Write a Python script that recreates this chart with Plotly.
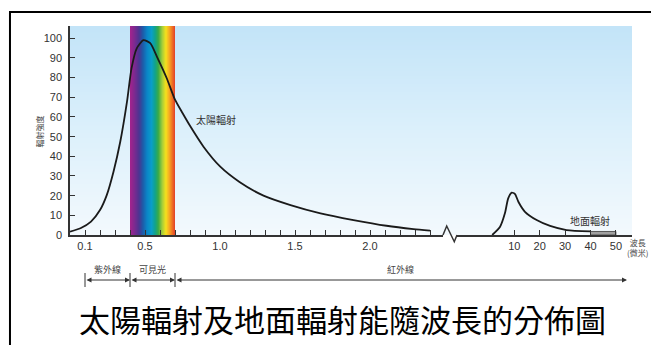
import base64, struct, zlib
import plotly.graph_objects as go

# ---------------- data ----------------
solar_um = [0.0, 0.07, 0.14, 0.2, 0.245, 0.29, 0.335, 0.38, 0.41, 0.445, 0.49, 0.535,
            0.58, 0.645, 0.7, 0.75, 0.8, 0.89, 1.0, 1.13, 1.29, 1.47, 1.67, 1.89,
            2.11, 2.29, 2.4]
solar_val = [1.7, 3.4, 6.8, 12.7, 20.3, 32.2, 47.4, 67.8, 84.7, 94.9, 99.1, 97.5,
             90.6, 79.7, 68.8, 62.0, 55.5, 44.9, 34.9, 27.0, 20.0, 15.2, 11.0, 7.6,
             4.7, 3.0, 2.2]
terr_um = [1.3, 4.4, 6.3, 7.6, 9.0, 10.3, 11.6, 14.2, 18.8, 24.1, 30.6, 40.0]
terr_val = [0.0, 4.2, 11.0, 18.6, 21.5, 20.8, 16.9, 11.8, 7.6, 4.6, 2.5, 1.8]
terr_tail_um = [40, 50]
terr_tail_val = 1.8

y_ticks = list(range(0, 101, 10))
x1_ticks = [round(0.1 * i, 1) for i in range(1, 25)]
x1_labels = {0.1: "0.1", 0.5: "0.5", 1.0: "1.0", 1.5: "1.5", 2.0: "2.0"}
x2_ticks = [10, 20, 30, 40, 50]

uv_range = [0.1, 0.4]
visible_range = [0.4, 0.7]
ir_start = 0.7

title_text = "太陽輻射及地面輻射能隨波長的分佈圖"
y_title = "輻射強度"

# ---------------- helpers ----------------
def hex2rgb(h):
    h = h.lstrip("#")
    return tuple(int(h[i:i + 2], 16) for i in (0, 2, 4))

def grad(stops, t):
    for (t0, c0), (t1, c1) in zip(stops[:-1], stops[1:]):
        if t0 <= t <= t1:
            f = 0 if t1 == t0 else (t - t0) / (t1 - t0)
            a, b = hex2rgb(c0), hex2rgb(c1)
            return tuple(int(round(a[k] + (b[k] - a[k]) * f)) for k in range(3))
    return hex2rgb(stops[-1][1])

def png_uri(w, h, pix):
    raw = b"".join(b"\x00" + bytes([c for x in range(w) for c in pix(x, y)]) for y in range(h))
    def chunk(tag, data):
        return struct.pack(">I", len(data)) + tag + data + struct.pack(">I", zlib.crc32(tag + data) & 0xffffffff)
    png = (b"\x89PNG\r\n\x1a\n" + chunk(b"IHDR", struct.pack(">IIBBBBB", w, h, 8, 2, 0, 0, 0))
           + chunk(b"IDAT", zlib.compress(raw)) + chunk(b"IEND", b""))
    return "data:image/png;base64," + base64.b64encode(png).decode()

bg_stops = [(0, "#c3e4f8"), (0.5, "#dcf0fb"), (1, "#f3f9fd")]
bg_uri = png_uri(2, 128, lambda x, y: grad(bg_stops, y / 127))

rb_stops = [(0.00, "#a3238e"), (0.10, "#7b2a8f"), (0.20, "#4b3592"), (0.28, "#1f5aa8"),
            (0.38, "#0a86c8"), (0.48, "#0a9fc8"), (0.56, "#12a38a"), (0.63, "#3aab47"),
            (0.72, "#a7cf3a"), (0.80, "#f5e11c"), (0.88, "#f5a623"), (0.95, "#ee6a24"),
            (1.00, "#e2432a")]
rb_uri = png_uri(128, 2, lambda x, y: grad(rb_stops, x / 127))

# ---------------- figure ----------------
# page offset of the figure (default body margin)
OFF = 8
W, H = 659 - OFF, 345 - OFF
PL, PR, PT, PB = 70, 632, 26, 235          # plot area in page pixels
ML, MR, MT, MB = PL - OFF, W - (PR - OFF), PT - OFF, H - (PB - OFF)
PW, PH = PR - PL, PB - PT
px_per_um1 = 150.0
x1_end_px = 443
x2_start_px, x2_zero_px, px_per_um2 = 457, 488.9, 2.54

def pxx(p):
    return (p - PL) / PW

def pxy(p):
    return (PB - p) / PH

num_font = dict(family="Liberation Sans, Arial, sans-serif", size=11, color="#333333")
cjk = "Noto Sans CJK TC, sans-serif"
axcol = "#333333"

fig = go.Figure()
fig.add_trace(go.Scatter(x=solar_um, y=solar_val, mode="lines",
                         line=dict(color="#1a1a1a", width=1.8, shape="spline", smoothing=0.6),
                         xaxis="x", yaxis="y", hoverinfo="skip", cliponaxis=False))
fig.add_trace(go.Scatter(x=terr_um, y=terr_val, mode="lines",
                         line=dict(color="#1a1a1a", width=1.8, shape="spline", smoothing=0.6),
                         xaxis="x2", yaxis="y", hoverinfo="skip", cliponaxis=False))
fig.add_trace(go.Scatter(x=[terr_tail_um[0], terr_tail_um[1], terr_tail_um[1], terr_tail_um[0], terr_tail_um[0]],
                         y=[0, 0, terr_tail_val, terr_tail_val, 0], mode="lines", fill="toself",
                         fillcolor="#a0a0a0", line=dict(color="#555555", width=1),
                         xaxis="x2", yaxis="y", hoverinfo="skip"))

yr_top = PH / 1.967
x1_range = [0, (x1_end_px - PL) / px_per_um1]
x2_range = [(x2_start_px - x2_zero_px) / px_per_um2, (PR - x2_zero_px) / px_per_um2]

fig.update_layout(
    width=W, height=H, margin=dict(l=ML, r=MR, t=MT, b=MB),
    paper_bgcolor="white", plot_bgcolor="rgba(0,0,0,0)", showlegend=False,
    xaxis=dict(domain=[0, pxx(x1_end_px)], range=x1_range, tickmode="array",
               tickvals=x1_ticks, ticktext=[x1_labels.get(v, "") for v in x1_ticks],
               ticks="inside", ticklen=5, tickwidth=1, tickcolor=axcol,
               showline=True, linecolor=axcol, linewidth=1.5, showgrid=False,
               zeroline=False, tickfont=num_font, anchor="y"),
    xaxis2=dict(domain=[pxx(x2_start_px), 1], range=x2_range, tickmode="array",
                tickvals=x2_ticks, ticks="inside", ticklen=5, tickwidth=1, tickcolor=axcol,
                showline=True, linecolor=axcol, linewidth=1.5, showgrid=False,
                zeroline=False, tickfont=num_font, anchor="y"),
    yaxis=dict(range=[0, yr_top], tickmode="array", tickvals=y_ticks,
               ticks="inside", ticklen=5, tickwidth=1, tickcolor=axcol,
               showline=True, linecolor=axcol, linewidth=1.5, showgrid=False,
               zeroline=False, tickfont=num_font, anchor="x", ticklabelstandoff=4),
)

fig.add_layout_image(dict(source=bg_uri, xref="paper", yref="paper", x=0, y=1,
                          sizex=1, sizey=1, sizing="stretch", layer="below"))
fig.add_layout_image(dict(source=rb_uri, xref="x", yref="paper", x=visible_range[0], y=1,
                          sizex=visible_range[1] - visible_range[0], sizey=1,
                          sizing="stretch", layer="below"))

# axis break zigzag
zz = [(x1_end_px, PB), (446.7, 226), (454.3, 241.7), (x2_start_px, PB)]
path = "M " + " L ".join(f"{pxx(a):.4f},{pxy(b):.4f}" for a, b in zz)
fig.add_shape(type="path", path=path, xref="paper", yref="paper",
              line=dict(color=axcol, width=1.5))

# frame
fig.add_shape(type="path", xref="paper", yref="paper",
              path=f"M {pxx(10):.4f},{pxy(400):.4f} L {pxx(10):.4f},{pxy(12):.4f} L {pxx(700):.4f},{pxy(12):.4f}",
              line=dict(color="black", width=2))

# region arrows
arrow_y = pxy(280)
for x0 in [uv_range[0], visible_range[0], visible_range[1]]:
    fig.add_shape(type="line", xref="x", yref="paper", x0=x0, x1=x0,
                  y0=pxy(273), y1=pxy(287), line=dict(color=axcol, width=1))
for a, b in [uv_range, visible_range]:
    fig.add_annotation(x=b, y=arrow_y, xref="x", yref="paper", ax=a, ay=0,
                       axref="x", ayref="pixel", text="", showarrow=True,
                       arrowhead=2, arrowsize=1, arrowwidth=1, arrowcolor=axcol,
                       arrowside="end+start", standoff=0, startstandoff=0)
fig.add_annotation(x=pxx(627), y=arrow_y, xref="paper", yref="paper",
                   ax=-(627 - (PL + ir_start * px_per_um1)), ay=0,
                   axref="pixel", ayref="pixel", text="", showarrow=True,
                   arrowhead=2, arrowsize=1, arrowwidth=1, arrowcolor=axcol,
                   arrowside="end+start", standoff=0, startstandoff=0)

def label(x, y, text, font, xref="paper", yref="paper", **kw):
    fig.add_annotation(x=x, y=y, xref=xref, yref=yref, text=text, showarrow=False,
                       xanchor="center", yanchor="middle", font=font, **kw)

lab_font = dict(family=cjk, size=9, color="#444444")
label(sum(uv_range) / 2, pxy(269), "紫外線", lab_font, xref="x")
label(sum(visible_range) / 2, pxy(269), "可見光", lab_font, xref="x")
label(2.2, pxy(269), "紅外線", lab_font, xref="x")

# curve labels
label(0.97, 58.5, "太陽輻射", dict(family=cjk, size=10, color="#333333"), xref="x", yref="y")
label(39.8, 7.6, "地面輻射", dict(family=cjk, size=10, color="#333333"), xref="x2", yref="y")
label(pxx(637), pxy(247), "波長<br>(微米)", dict(family=cjk, size=8, color="#444444"), align="center")

# y title
label(pxx(38.5), pxy(132), y_title, dict(family=cjk, size=8, color="#444444"), textangle=-90)

# main title
fig.add_annotation(x=pxx(342), y=pxy(343), xref="paper", yref="paper", text=title_text,
                   showarrow=False, xanchor="center", yanchor="bottom",
                   font=dict(family=cjk, size=31, color="black"))

fig.write_html("out.html")
